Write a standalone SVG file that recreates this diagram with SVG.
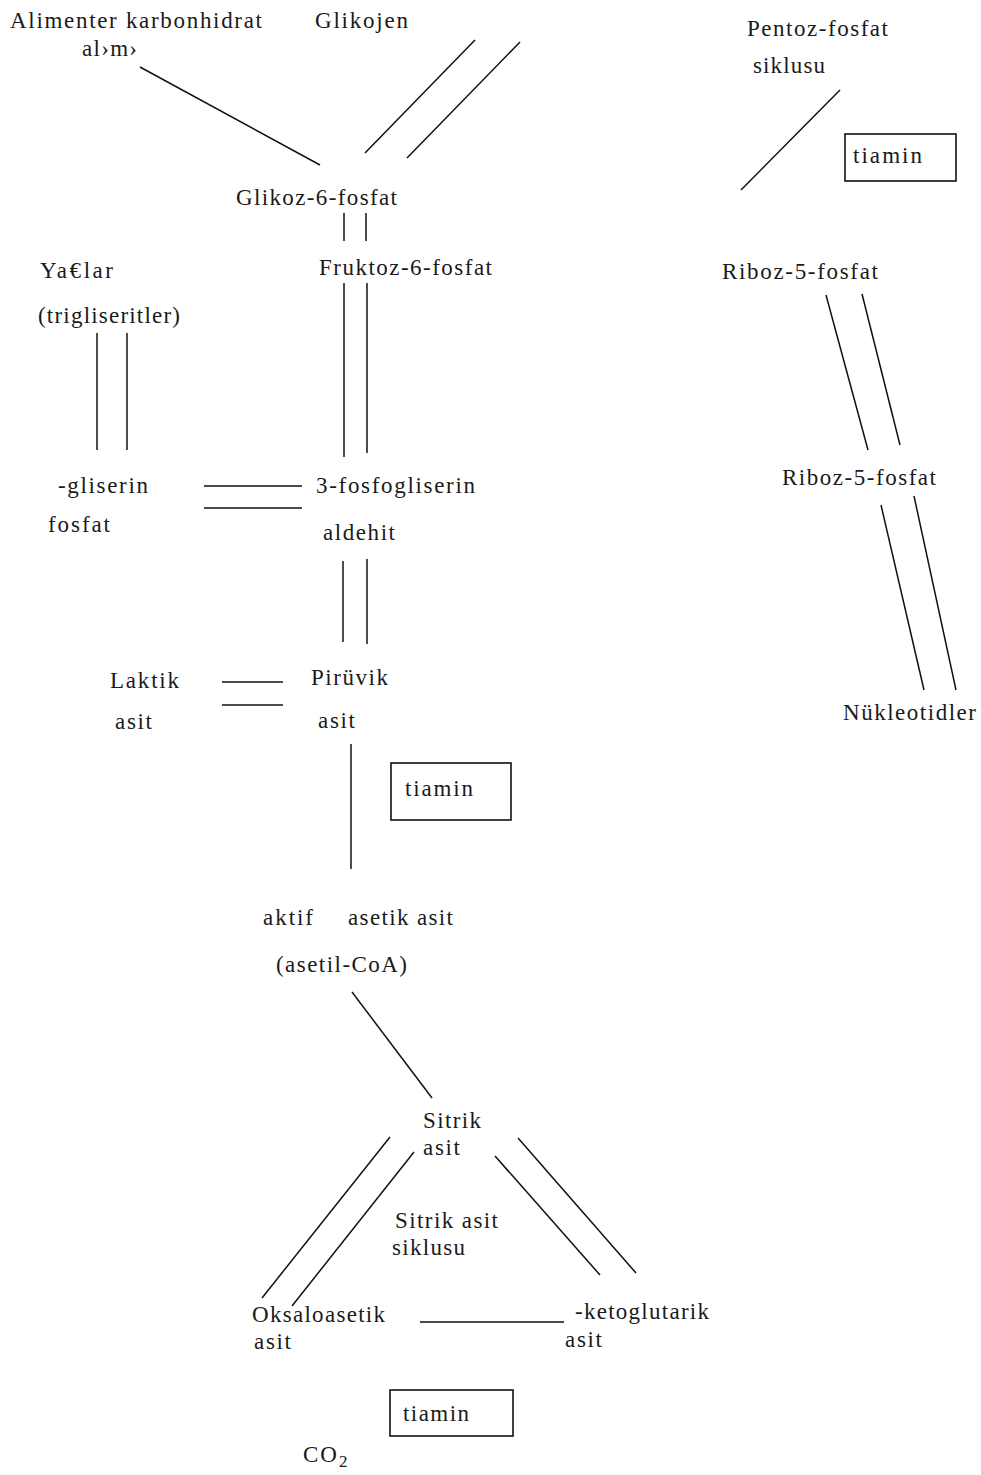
<svg xmlns="http://www.w3.org/2000/svg" width="981" height="1475" viewBox="0 0 981 1475">
<style>
text{font-family:"Liberation Serif","Times New Roman",serif;font-size:23px;fill:#1a1a1a}
line{stroke:#111;stroke-width:1.5}
rect.box{fill:none;stroke:#111;stroke-width:1.6}
</style>
<rect width="981" height="1475" fill="#fff"/>
<g id="connectors">
<line x1="140" y1="67" x2="320" y2="165"/>
<line x1="475" y1="40" x2="365" y2="153"/>
<line x1="520" y1="42" x2="407" y2="158"/>
<line x1="840" y1="90" x2="741" y2="190"/>
<line x1="344" y1="213" x2="344" y2="241"/>
<line x1="366" y1="213" x2="366" y2="241"/>
<line x1="344" y1="283" x2="344" y2="457"/>
<line x1="367" y1="283" x2="367" y2="453"/>
<line x1="97" y1="333" x2="97" y2="450"/>
<line x1="127" y1="333" x2="127" y2="450"/>
<line x1="204" y1="486" x2="302" y2="486"/>
<line x1="204" y1="508" x2="302" y2="508"/>
<line x1="343" y1="561" x2="343" y2="642"/>
<line x1="367" y1="559" x2="367" y2="644"/>
<line x1="222" y1="682" x2="283" y2="682"/>
<line x1="222" y1="705" x2="283" y2="705"/>
<line x1="351" y1="744" x2="351" y2="869"/>
<line x1="352" y1="992" x2="432" y2="1098"/>
<line x1="390" y1="1137" x2="262" y2="1298"/>
<line x1="414" y1="1152" x2="292" y2="1306"/>
<line x1="495" y1="1156" x2="600" y2="1275"/>
<line x1="518" y1="1138" x2="636" y2="1273"/>
<line x1="420" y1="1322" x2="564" y2="1322"/>
<line x1="826" y1="295" x2="868" y2="450"/>
<line x1="862" y1="294" x2="900" y2="445"/>
<line x1="881" y1="505" x2="924" y2="690"/>
<line x1="914" y1="496" x2="956" y2="690"/>
</g>
<g id="alimenter"><text x="10" y="28" textLength="252" lengthAdjust="spacing">Alimenter karbonhidrat</text><text x="82" y="56" textLength="55" lengthAdjust="spacing">al›m›</text></g>
<g id="glikojen"><text x="315" y="28" textLength="93" lengthAdjust="spacing">Glikojen</text></g>
<g id="pentoz"><text x="747" y="36" textLength="141" lengthAdjust="spacing">Pentoz-fosfat</text><text x="753" y="73" textLength="72" lengthAdjust="spacing">siklusu</text></g>
<g id="tiamin1"><rect class="box" x="845" y="134" width="111" height="47"/><text x="853" y="163" textLength="69" lengthAdjust="spacing">tiamin</text></g>
<g id="g6p"><text x="236" y="205" textLength="161" lengthAdjust="spacing">Glikoz-6-fosfat</text></g>
<g id="f6p"><text x="319" y="275" textLength="173" lengthAdjust="spacing">Fruktoz-6-fosfat</text></g>
<g id="yaglar"><text x="40" y="278" textLength="73" lengthAdjust="spacing">Ya€lar</text><text x="38" y="323" textLength="142" lengthAdjust="spacing">(trigliseritler)</text></g>
<g id="gliserin"><text x="58" y="493" textLength="90" lengthAdjust="spacing">-gliserin</text><text x="48" y="532" textLength="62" lengthAdjust="spacing">fosfat</text></g>
<g id="pga"><text x="316" y="493" textLength="159" lengthAdjust="spacing">3-fosfogliserin</text><text x="323" y="540" textLength="72" lengthAdjust="spacing">aldehit</text></g>
<g id="laktik"><text x="110" y="688" textLength="69" lengthAdjust="spacing">Laktik</text><text x="115" y="729" textLength="37" lengthAdjust="spacing">asit</text></g>
<g id="piruvik"><text x="311" y="685" textLength="77" lengthAdjust="spacing">Pirüvik</text><text x="318" y="728" textLength="37" lengthAdjust="spacing">asit</text></g>
<g id="tiamin2"><rect class="box" x="391" y="763" width="120" height="57"/><text x="405" y="796" textLength="68" lengthAdjust="spacing">tiamin</text></g>
<g id="asetil"><text x="263" y="925" textLength="50" lengthAdjust="spacing">aktif</text><text x="348" y="925" textLength="105" lengthAdjust="spacing">asetik asit</text><text x="276" y="972" textLength="131" lengthAdjust="spacing">(asetil-CoA)</text></g>
<g id="sitrik"><text x="423" y="1128" textLength="58" lengthAdjust="spacing">Sitrik</text><text x="423" y="1155" textLength="37" lengthAdjust="spacing">asit</text></g>
<g id="siklus"><text x="395" y="1228" textLength="103" lengthAdjust="spacing">Sitrik asit</text><text x="392" y="1255" textLength="73" lengthAdjust="spacing">siklusu</text></g>
<g id="oksalo"><text x="252" y="1322" textLength="133" lengthAdjust="spacing">Oksaloasetik</text><text x="254" y="1349" textLength="37" lengthAdjust="spacing">asit</text></g>
<g id="keto"><text x="575" y="1319" textLength="134" lengthAdjust="spacing">-ketoglutarik</text><text x="565" y="1347" textLength="37" lengthAdjust="spacing">asit</text></g>
<g id="tiamin3"><rect class="box" x="390" y="1390" width="123" height="46"/><text x="403" y="1421" textLength="66" lengthAdjust="spacing">tiamin</text></g>
<g id="co2"><text x="303" y="1462" letter-spacing="2">CO<tspan font-size="17" dy="5">2</tspan></text></g>
<g id="riboz1"><text x="722" y="279" textLength="156" lengthAdjust="spacing">Riboz-5-fosfat</text></g>
<g id="riboz2"><text x="782" y="485" textLength="154" lengthAdjust="spacing">Riboz-5-fosfat</text></g>
<g id="nukleotid"><text x="843" y="720" textLength="133" lengthAdjust="spacing">Nükleotidler</text></g>
</svg>
